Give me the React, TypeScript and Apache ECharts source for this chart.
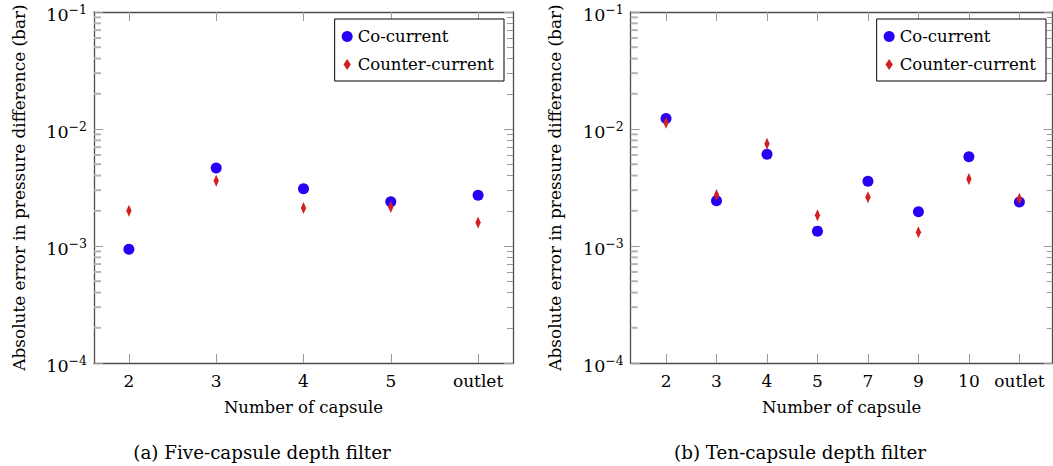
import React, { useEffect, useRef } from 'react';
import * as echarts from 'echarts';

const catsA = ['2', '3', '4', '5', 'outlet'];
const coA = [9.4e-4, 4.64e-3, 3.09e-3, 2.39e-3, 2.71e-3];
const counterA = [2.0e-3, 3.61e-3, 2.11e-3, 2.15e-3, 1.59e-3];

const catsB = ['2', '3', '4', '5', '7', '9', '10', 'outlet'];
const coB = [1.23e-2, 2.44e-3, 6.08e-3, 1.34e-3, 3.57e-3, 1.96e-3, 5.8e-3, 2.38e-3];
const counterB = [1.13e-2, 2.73e-3, 7.49e-3, 1.83e-3, 2.61e-3, 1.31e-3, 3.74e-3, 2.54e-3];

const majorTicks = [1e-4, 1e-3, 1e-2, 1e-1];
const minorTicks = [
  2e-4, 3e-4, 4e-4, 5e-4, 6e-4, 7e-4, 8e-4, 9e-4,
  2e-3, 3e-3, 4e-3, 5e-3, 6e-3, 7e-3, 8e-3, 9e-3,
  2e-2, 3e-2, 4e-2, 5e-2, 6e-2, 7e-2, 8e-2, 9e-2,
];

const seriesNames = ['Co-current', 'Counter-current'];
const captions = ['(a) Five-capsule depth filter', '(b) Ten-capsule depth filter'];
const xTitle = 'Number of capsule';
const yTitle = 'Absolute error in pressure difference (bar)';

const FONT = "'DejaVu Serif', serif";
const FS = 16.5;
const BLUE = '#2a00f5';
const RED = '#d21f1f';
const AXIS = '#4d4d4d';
const TICK = '#9a9a9a';
const DIAMOND = 'path://M4,0 L8,6 L4,12 L0,6 Z';

function supLabel(v: number) {
  const e = Math.round(Math.log10(v));
  return '{b|10}{s|\u2212' + Math.abs(e) + '}';
}

function buildPanel(p: number, cats: string[], co: number[], counter: number[], xMin: number, xMax: number, box: any) {
  const g0 = 2 * p;
  const idx = cats.map((_, i) => i);
  const gridBase = { ...box, outerBoundsMode: 'none', containLabel: false };
  const grids = [gridBase, gridBase];
  const xAxes = [
    {
      type: 'value', gridIndex: g0, position: 'bottom', min: xMin, max: xMax,
      axisLine: { show: true, onZero: false, lineStyle: { color: AXIS, width: 1.3 } },
      axisTick: { show: true, inside: true, length: 9, customValues: idx, lineStyle: { color: TICK, width: 1 } },
      axisLabel: {
        show: true, customValues: idx, margin: 9,
        formatter: (v: number) => cats[Math.round(v)],
        fontFamily: FONT, fontSize: 17, color: '#000',
      },
      splitLine: { show: false },
      name: xTitle, nameLocation: 'middle', nameGap: 36,
      nameTextStyle: { fontFamily: FONT, fontSize: FS, color: '#000' },
    },
    {
      type: 'value', gridIndex: g0, position: 'top', min: xMin, max: xMax,
      axisLine: { show: true, onZero: false, lineStyle: { color: AXIS, width: 1.3 } },
      axisTick: { show: true, inside: true, length: 9, customValues: idx, lineStyle: { color: TICK, width: 1 } },
      axisLabel: { show: false },
      splitLine: { show: false },
    },
    { type: 'value', gridIndex: g0 + 1, position: 'bottom', min: xMin, max: xMax, show: false },
  ];
  const yBase = { type: 'log', logBase: 10, min: 1e-4, max: 1e-1, splitLine: { show: false } };
  const yAxes = [
    {
      ...yBase, gridIndex: g0, position: 'left',
      axisLine: { show: true, onZero: false, lineStyle: { color: AXIS, width: 1.3 } },
      axisTick: { show: true, inside: true, length: 9, customValues: majorTicks, lineStyle: { color: TICK, width: 1 } },
      axisLabel: {
        show: true, customValues: majorTicks, margin: 7,
        formatter: supLabel,
        rich: {
          b: { fontFamily: FONT, fontSize: 17.5, color: '#000', padding: [6, 0, 0, 0] },
          s: { fontFamily: FONT, fontSize: 12.5, color: '#000', padding: [0, 0, 6, 0] },
        },
      },
      name: yTitle, nameLocation: 'middle', nameGap: 67, nameRotate: 90,
      nameTextStyle: { fontFamily: FONT, fontSize: 16.9, color: '#000' },
    },
    {
      ...yBase, gridIndex: g0, position: 'right',
      axisLine: { show: true, onZero: false, lineStyle: { color: AXIS, width: 1.3 } },
      axisTick: { show: true, inside: true, length: 9, customValues: majorTicks, lineStyle: { color: TICK, width: 1 } },
      axisLabel: { show: false },
    },
    {
      ...yBase, gridIndex: g0 + 1, position: 'right',
      axisLine: { show: false, onZero: false },
      axisTick: { show: true, inside: true, length: 6, customValues: minorTicks, lineStyle: { color: TICK, width: 1 } },
      axisLabel: { show: false },
    },
  ];
  const xi = 3 * p;
  const yi = 3 * p;
  const series = [
    {
      type: 'scatter', name: 'minor-left', xAxisIndex: xi, yAxisIndex: yi,
      symbol: 'rect', symbolSize: [7, 2], symbolOffset: [3.5, 0],
      itemStyle: { color: '#b4b4b4', opacity: 1 },
      silent: true, clip: false, z: 5,
      data: minorTicks.map((v) => [xMin, v]),
    },
    {
      type: 'scatter', name: seriesNames[0], xAxisIndex: xi, yAxisIndex: yi,
      symbol: 'circle', symbolSize: 11,
      itemStyle: { color: BLUE, opacity: 1 },
      data: co.map((v, i) => [i, v]),
      z: 2,
    },
    {
      type: 'scatter', name: seriesNames[1], xAxisIndex: xi, yAxisIndex: yi,
      symbol: DIAMOND, symbolSize: [8, 12], symbolKeepAspect: true,
      itemStyle: { color: RED, opacity: 1 },
      data: counter.map((v, i) => [i, v]),
      z: 3,
    },
  ];
  return { grids, xAxes, yAxes, series };
}

export default function App() {
  const ref = useRef<HTMLDivElement>(null);
  useEffect(() => {
    if (!ref.current) return;
    const chart = echarts.init(ref.current, undefined, { renderer: 'svg' });
    const pA = buildPanel(0, catsA, coA, counterA, -0.4, 4.4, { left: 94, top: 12, width: 419, height: 351 });
    const pB = buildPanel(1, catsB, coB, counterB, -0.7, 7.66, { left: 630.7, top: 12, width: 422, height: 351 });
    const legendBase = {
      orient: 'vertical', top: 19, itemWidth: 11, itemHeight: 11, itemGap: 11,
      padding: [9, 10, 8, 7], borderColor: '#000', borderWidth: 1, backgroundColor: '#fff',
      textStyle: { fontFamily: FONT, fontSize: FS, color: '#000' },
      data: [{ name: seriesNames[0], icon: 'circle' }, { name: seriesNames[1], icon: DIAMOND }],
      selectedMode: false,
    };
    chart.setOption({
      animation: false,
      backgroundColor: '#fff',
      grid: [...pA.grids, ...pB.grids],
      xAxis: [...pA.xAxes, ...pB.xAxes],
      yAxis: [...pA.yAxes, ...pB.yAxes],
      series: [...pA.series, ...pB.series],
      legend: [
        { ...legendBase, right: 1053 - 504 },
        { ...legendBase, right: 1053 - 1046 },
      ],
      graphic: [
        { type: 'text', x: 262, y: 452, style: { text: captions[0], font: `18.3px ${FONT}`, fill: '#000', textAlign: 'center', textVerticalAlign: 'middle' } },
        { type: 'text', x: 800, y: 452, style: { text: captions[1], font: `18.3px ${FONT}`, fill: '#000', textAlign: 'center', textVerticalAlign: 'middle' } },
      ],
    });
    return () => chart.dispose();
  }, []);
  return <div ref={ref} style={{ position: 'fixed', left: 0, top: 0, width: 1053, height: 466 }} />;
}
